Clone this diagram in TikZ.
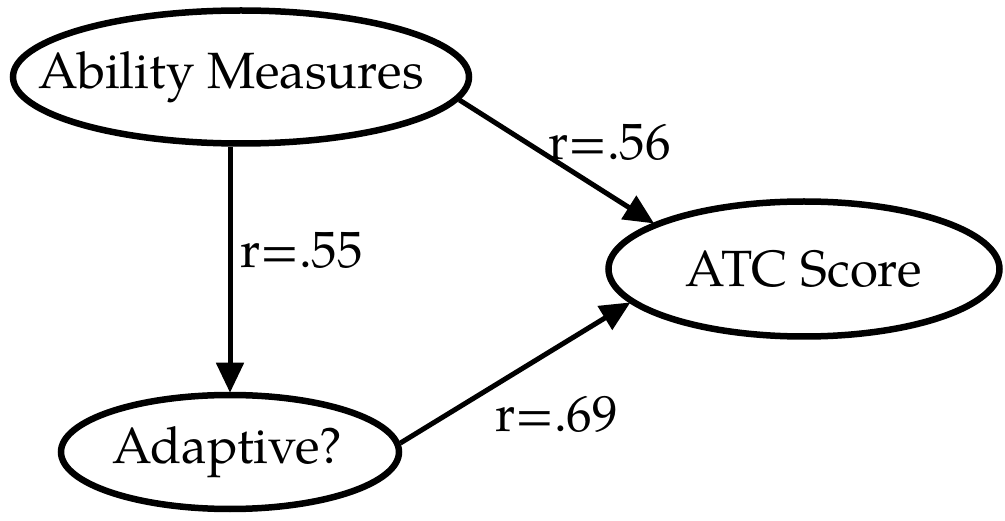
\documentclass[tikz,border=0pt]{standalone}
\usepackage{fontspec}
\setmainfont{texgyrepagella}[Extension=.otf,UprightFont=*-regular]
\usetikzlibrary{shapes.geometric,arrows.meta}
\tikzset{
  var/.style={ellipse,draw,line width=6.5pt,inner xsep=-120pt,inner ysep=-40pt,font=\fontsize{51}{60}\selectfont},
  link/.style={line width=5pt,-{Triangle[length=30pt,width=27pt]},shorten >=-1pt},
  coef/.style={anchor=base west,inner sep=0pt,font=\fontsize{51}{60}\selectfont}
}
\begin{document}
\begin{tikzpicture}[x=1pt,y=-1pt]
\useasboundingbox (0,0) rectangle (1005,521);
\node[var,minimum width=456pt,minimum height=133pt] (ab) at (241,77) {Ability Measures\hspace*{20pt}};
\node[var,minimum width=391pt,minimum height=135pt] (atc) at (804,269) {ATC Score};
\node[var,minimum width=338pt,minimum height=114pt] (ad) at (230,452) {Adaptive?\hspace*{5pt}};
\draw[link] (ad.north |- ab.south) -- (ad.north);
\draw[link] (ab.-6.5) -- (atc.163.5);
\draw[link] (ad.3) -- (atc.-169);
\node[coef] (l55) at (240,268) {r=.55};
\node[coef] (l56) at (548,160) {r=.56};
\node[coef] (l69) at (495,432) {r=.69};
\end{tikzpicture}
\end{document}
